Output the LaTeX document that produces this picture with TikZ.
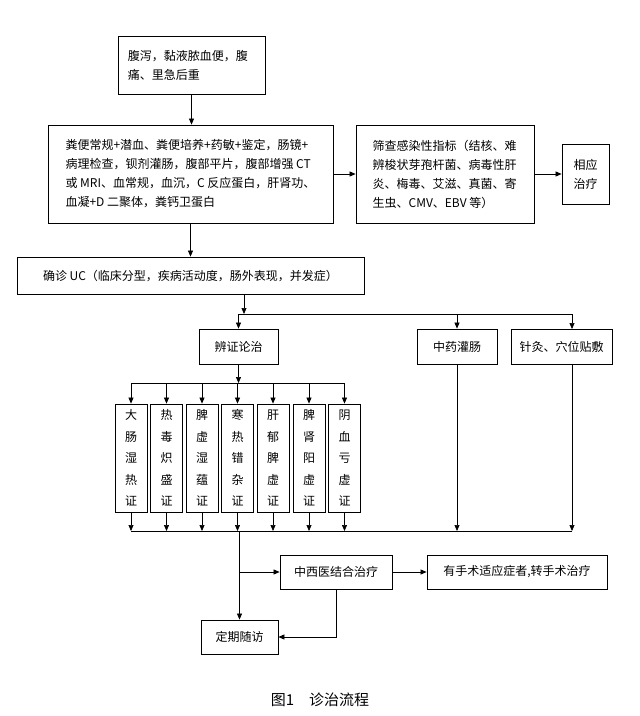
\documentclass[tikz,border=0pt]{standalone}
\usepackage{fontspec}
\setmainfont{Noto Sans CJK SC}
\usetikzlibrary{arrows.meta}
\begin{document}
\begin{tikzpicture}[x=1pt,y=-1pt,
  box/.style={draw,line width=0.8pt,inner sep=0pt,font=\fontsize{12}{19}\selectfont},
  vbox/.style={box,minimum width=32pt,minimum height=108pt,align=center,font=\fontsize{12}{21.5}\selectfont},
  arr/.style={-{Triangle[length=6pt,width=5pt]},line width=0.7pt},
  ln/.style={line width=0.9pt}]
\useasboundingbox (0,0) rectangle (640,716);
\node[box,minimum width=147pt,minimum height=58pt,align=left] (b1) at (191.5,65) {腹泻，黏液脓血便，腹\\痛、里急后重\hspace*{4.6em}};
\node[box,minimum width=285pt,minimum height=98pt,align=left] (b2) at (190.5,174) {粪便常规+潜血、粪便培养+药敏+鉴定，肠镜+\\病理检查，钡剂灌肠，腹部平片，腹部增强 CT\\或 MRI、血常规，血沉，C 反应蛋白，肝肾功、\\血凝+D 二聚体，粪钙卫蛋白\hspace*{7.5em}};
\node[box,minimum width=178pt,minimum height=98pt,align=left] (b3) at (445,174) {筛查感染性指标（结核、难\\辨梭状芽孢杆菌、病毒性肝\\炎、梅毒、艾滋、真菌、寄\\生虫、CMV、EBV 等）\hspace*{2em}};
\node[box,minimum width=47pt,minimum height=60pt,align=center] (b4) at (585.5,174) {相应\\治疗};
\node[box,minimum width=347pt,minimum height=37pt] (uc) at (190.5,275.5) {确诊 UC（临床分型，疾病活动度，肠外表现，并发症）};
\node[box,minimum width=79pt,minimum height=35pt] (bz) at (238.5,346.5) {辨证论治};
\node[box,minimum width=80pt,minimum height=35pt] (zy) at (457,346.5) {中药灌肠};
\node[box,minimum width=101pt,minimum height=35pt] (zj) at (561.5,346.5) {针灸、穴位贴敷};
\foreach \i/\x/\t in {1/131/大\\肠\\湿\\热\\证,2/166.5/热\\毒\\炽\\盛\\证,3/202/脾\\虚\\湿\\蕴\\证,4/237.5/寒\\热\\错\\杂\\证,5/273/肝\\郁\\脾\\虚\\证,6/309/脾\\肾\\阳\\虚\\证,7/344.5/阴\\血\\亏\\虚\\证}
  \node[vbox] (t\i) at (\x,458) {\t};
\node[box,minimum width=112pt,minimum height=34pt] (zx) at (336,572) {中西医结合治疗};
\node[box,minimum width=180pt,minimum height=34pt] (ss) at (517,572) {有手术适应症者,转手术治疗};
\node[box,minimum width=77pt,minimum height=34pt] (dq) at (239.5,637) {定期随访};
\node[font=\fontsize{15}{17}\selectfont] (cap) at (320,700) {图1\quad 诊治流程};
% connectors
\draw[arr] (b1.south) -- (b1.south|-b2.north);
\draw[arr] (b2.east) -- (b3.west);
\draw[arr] (b3.east) -- (b4.west);
\draw[arr] (b2.south) -- (b2.south|-uc.north);
\coordinate (bus1) at (244,314);
\draw[arr] (uc.south-|bus1) -- (bus1);
\draw[ln] (238.5,314) -- (572,314);
\draw[arr] (238.5,314) -- (bz.north);
\draw[arr] (457,314) -- (zy.north);
\draw[arr] (572,314) -- (572,329);
\coordinate (bus2) at (238.5,383);
\draw[arr] (bz.south) -- (bus2);
\draw[ln] (131,383) -- (344.5,383);
\foreach \i in {1,...,7} \draw[arr] (t\i.north|-bus2) -- (t\i.north);
\draw[ln] (131,531) -- (572,531);
\foreach \i in {1,...,7} \draw[arr] (t\i.south) -- (t\i.south|-0,531);
\draw[arr] (zy.south) -- (457,531);
\draw[arr] (572,364) -- (572,531);
\draw[arr] (239.5,531) -- (dq.north);
\draw[arr] (239.5,572) -- (zx.west);
\draw[arr] (zx.east) -- (ss.west);
\draw[arr] (zx.south) |- (dq.east);
\end{tikzpicture}
\end{document}
